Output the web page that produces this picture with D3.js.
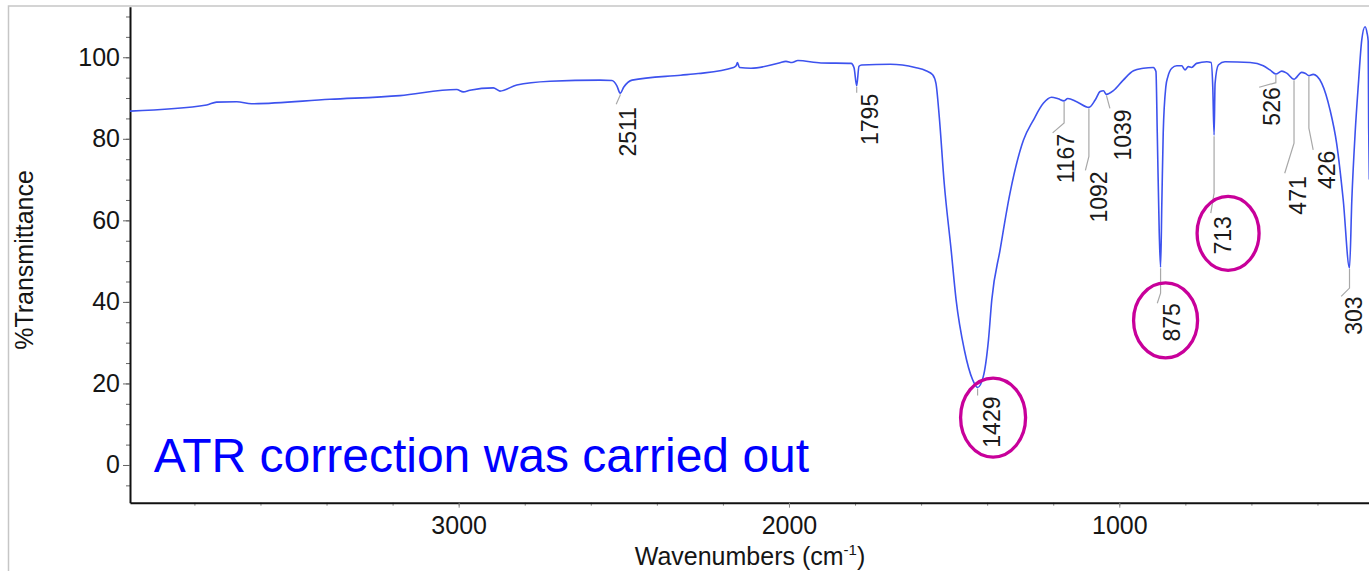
<!DOCTYPE html>
<html>
<head>
<meta charset="utf-8">
<script src="https://cdn.jsdelivr.net/npm/d3@7"></script>
<style>
html, body { margin: 0; padding: 0; background: #fff; overflow: hidden; }
svg { display: block; font-family: "Liberation Sans", Arial, sans-serif; }
</style>
</head>
<body>
<svg id="chart" width="1369" height="571"></svg>
<script>
// spectrum (cm-1 / %T)
var wavenumbers = [3995, 3763, 3733, 3672, 3627, 3390, 3178, 3006, 2986, 2966, 2895, 2875, 2824, 2723, 2572, 2536, 2521, 2511, 2500, 2475,
  2328, 2275, 2168, 2160, 2156, 2150, 2115, 2030, 2009, 1991, 1973, 1903, 1812, 1803, 1795, 1788, 1780, 1693, 1618, 1585,
  1565, 1555, 1545, 1530, 1509, 1494, 1469, 1444, 1429, 1412, 1396, 1386, 1361, 1331, 1290, 1260, 1230, 1205, 1185, 1167,
  1156, 1129, 1092, 1073, 1058, 1048, 1039, 1018, 988, 957, 927, 897, 889, 885, 879, 875, 871, 867, 859, 853,
  841, 826, 811, 801, 791, 781, 766, 735, 722, 717, 713, 710, 700, 680, 604, 564, 544, 526, 508, 493,
  471, 448, 436, 426, 413, 401, 387, 362, 342, 322, 303, 296, 286, 276, 266, 256, 250, 246.5, 245, 243];
var transmittance = [86.8, 88.3, 89.0, 89.1, 88.6, 89.7, 90.6, 92.1, 91.5, 91.9, 92.5, 91.7, 93.2, 94.1, 94.4, 94.3, 93.0, 91.2, 92.7, 94.4,
  95.6, 96.0, 97.5, 97.9, 98.7, 97.5, 97.3, 98.6, 99.0, 98.7, 99.2, 98.6, 98.5, 97.4, 93.0, 97.8, 98.1, 98.3, 97.5, 96.7,
  95.7, 93.6, 85.4, 69.1, 52.7, 40.5, 28.2, 20.9, 19.0, 21.6, 30.7, 40.5, 52.7, 66.6, 79.7, 84.6, 88.7, 90.2, 89.8, 89.3,
  89.9, 89.1, 87.7, 89.5, 91.6, 91.8, 90.9, 91.8, 94.4, 96.7, 97.3, 97.5, 96.5, 81.4, 56.9, 48.5, 65.0, 81.4, 92.8, 95.2,
  97.3, 97.9, 97.9, 96.9, 97.7, 97.5, 98.5, 98.9, 98.7, 92.8, 80.9, 93.6, 98.1, 98.9, 98.7, 97.9, 96.9, 95.9, 96.6, 96.1,
  94.6, 96.3, 96.0, 95.5, 95.8, 95.3, 93.6, 87.1, 78.9, 65.0, 48.3, 65.0, 81.4, 93.6, 104.2, 107.5, 106.0, 104.0, 82.7, 70.0];

var peakLabels = [2511, 1795, 1429, 1167, 1092, 1039, 875, 713, 526, 471, 426, 303];
var circledPeaks = [1429, 875, 713];

var xMajorTicks = [3000, 2000, 1000];
var xMinorTicks = [3800, 3600, 3400, 3200, 3000, 2800, 2600, 2400, 2200, 2000, 1800, 1600, 1400, 1200, 1000, 800, 600, 400];
var yMajorTicks = [0, 20, 40, 60, 80, 100];
var yMinorTicks = [-5, 0, 5, 10, 15, 20, 25, 30, 35, 40, 45, 50, 55, 60, 65, 70, 75, 80, 85, 90, 95, 100, 105, 110];

var noteText = "ATR correction was carried out";

// leader / label placement in px, relative to the peak point
var labelLayout = {
  2511: {bend: 2,  ex: -4,    ey: 11, tx: 8,    ty: 14},
  1795: {bend: 7,  ex: 0,     ey: 7,  tx: 13,   ty: 8},
  1429: {bend: 8,  ex: 0,     ey: 8,  tx: 14,   ty: 9},
  1167: {bend: 22, ex: -11.5, ey: 32, tx: 1.5,  ty: 33},
  1092: {bend: 49, ex: -3.5,  ey: 63, tx: 10,   ty: 64},
  1039: {bend: 1,  ex: 3.5,   ey: 14, tx: 16,   ty: 15},
  875:  {bend: 26, ex: -3.3,  ey: 36, tx: 11,   ty: 36},
  713:  {bend: 58, ex: -3.3,  ey: 78, tx: 9,    ty: 81},
  526:  {bend: 8.7, ex: -16.7, ey: 13.3, tx: -4.4, ty: 13.3},
  471:  {bend: 64, ex: -9.3,  ey: 94, tx: 4,    ty: 97},
  426:  {bend: 52.6, ex: 4.3, ey: 74.3, tx: 17.7, ty: 75},
  303:  {bend: 20, ex: -8.3,  ey: 28.3, tx: 4.2, ty: 28.3}
};
var ellipseLayout = {
  1429: {dx: 1.5, dy: -4.5, rx: 32.5, ry: 39.5},
  875:  {dx: -6,  dy: -2,   rx: 32,   ry: 37.5},
  713:  {dx: 5,   dy: -2,   rx: 31,   ry: 37}
};

var W = 1369, H = 571;
var plotLeft = 130, plotTop = 6.7, plotRight = 1369, plotBottom = 502.7;
var labelSize = 23;
var fmt = d3.format("d");

var svg = d3.select("#chart");

var x = d3.scaleLinear().domain([3995, 244]).range([plotLeft, plotRight]);
var y = d3.scaleLinear().domain([-9.25, 112.4]).range([plotBottom, plotTop]);

// outer picture frame (grey)
svg.append("rect")
  .attr("x", 8.5).attr("y", 6).attr("width", W + 20).attr("height", H + 20)
  .attr("fill", "none").attr("stroke", "#c6c6c6").attr("stroke-width", 1.5);

svg.append("clipPath").attr("id", "plotclip")
  .append("rect").attr("x", plotLeft).attr("y", plotTop)
  .attr("width", plotRight - plotLeft).attr("height", plotBottom - plotTop);

// minor ticks first
svg.append("g").attr("transform", "translate(" + plotLeft + ",0)")
  .call(d3.axisLeft(y).tickValues(yMinorTicks).tickSize(4).tickFormat(""))
  .call(function(g){ g.select(".domain").remove(); g.selectAll("line").attr("stroke", "#666"); });
svg.append("g").attr("transform", "translate(0," + plotBottom + ")")
  .call(d3.axisBottom(x).tickValues(xMinorTicks).tickSize(3).tickFormat(""))
  .call(function(g){ g.select(".domain").remove(); g.selectAll("line").attr("stroke", "#888"); });

var yAxis = svg.append("g").attr("transform", "translate(" + plotLeft + ",0)")
  .call(d3.axisLeft(y).tickValues(yMajorTicks).tickFormat(fmt).tickSize(7).tickPadding(3).tickSizeOuter(0));
yAxis.select(".domain").attr("stroke", "#111").attr("stroke-width", 2);
yAxis.selectAll("line").attr("stroke", "#666");
yAxis.selectAll("text").attr("font-size", 25).attr("fill", "#151515")
  .attr("font-family", "Liberation Sans, Arial, sans-serif");

var xAxis = svg.append("g").attr("transform", "translate(0," + plotBottom + ")")
  .call(d3.axisBottom(x).tickValues(xMajorTicks).tickFormat(fmt).tickSize(5).tickPadding(9).tickSizeOuter(0));
xAxis.select(".domain").attr("stroke", "#111").attr("stroke-width", 2);
xAxis.selectAll("line").attr("stroke", "#888");
xAxis.selectAll("text").attr("font-size", 25).attr("fill", "#151515")
  .attr("font-family", "Liberation Sans, Arial, sans-serif");

// axis titles
svg.append("text")
  .attr("transform", "translate(33,260) rotate(-90)")
  .attr("text-anchor", "middle").attr("font-size", 25).attr("fill", "#151515")
  .text("%Transmittance");

var xt = svg.append("text")
  .attr("x", 750).attr("y", 565).attr("text-anchor", "middle")
  .attr("font-size", 25).attr("fill", "#151515");
xt.append("tspan").text("Wavenumbers (cm");
xt.append("tspan").attr("font-size", 15).attr("dy", -10).text("-1");
xt.append("tspan").attr("dy", 10).text(")");

// spectrum
var pts = wavenumbers.map(function(w, i){ return [w, transmittance[i]]; });
var line = d3.line()
  .x(function(d){ return x(d[0]); })
  .y(function(d){ return y(d[1]); })
  .curve(d3.curveMonotoneX);

svg.append("path")
  .datum(pts)
  .attr("clip-path", "url(#plotclip)")
  .attr("fill", "none")
  .attr("stroke", "#3d52ee")
  .attr("stroke-width", 1.6)
  .attr("d", line);

// peak labels with leader lines
var labels = svg.append("g");
peakLabels.forEach(function(p){
  var t = transmittance[wavenumbers.indexOf(p)];
  var px = x(p), py = y(t);
  var L = labelLayout[p];
  labels.append("polyline")
    .attr("points", [[px, py + 1], [px, py + L.bend], [px + L.ex, py + L.ey]].join(" "))
    .attr("fill", "none").attr("stroke", "#a8a8a8").attr("stroke-width", 1.2);
  var cx = px + L.tx, ty = py + L.ty;
  labels.append("text")
    .attr("transform", "translate(" + (cx + labelSize * 0.36) + "," + ty + ") rotate(-90)")
    .attr("text-anchor", "end")
    .attr("font-size", labelSize).attr("fill", "#1a1a1a")
    .text(String(p));

  if (circledPeaks.indexOf(p) >= 0) {
    var E = ellipseLayout[p];
    var len = String(p).length * 0.556 * labelSize;
    labels.append("ellipse")
      .attr("cx", cx + E.dx).attr("cy", ty + len / 2 + E.dy)
      .attr("rx", E.rx).attr("ry", E.ry)
      .attr("fill", "none").attr("stroke", "#c8009a").attr("stroke-width", 3.3);
  }
});

// note
svg.append("text")
  .attr("x", x(3923)).attr("y", y(-1.7))
  .attr("font-size", 48).attr("fill", "#0000ff")
  .text(noteText);
</script>
</body>
</html>
